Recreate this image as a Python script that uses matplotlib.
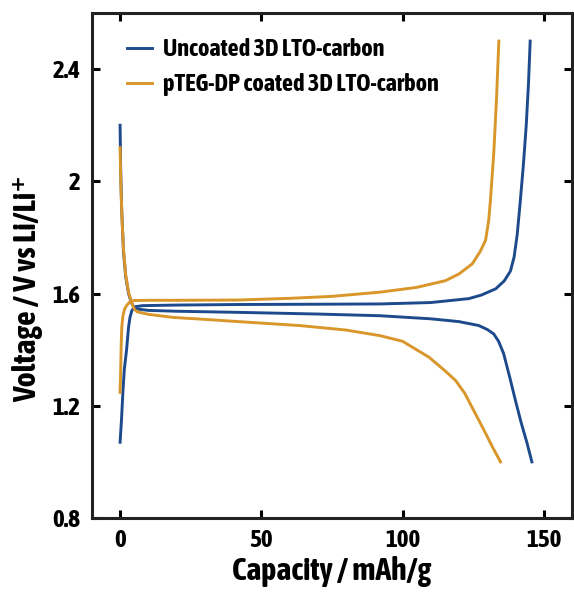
import matplotlib
matplotlib.use('Agg')
import matplotlib.pyplot as plt

plt.rcParams['font.family'] = ['Asap Condensed', 'DejaVu Sans']
plt.rcParams['font.weight'] = 'bold'

blue = '#1d4a8c'
orange = '#d9962a'

# uncoated 3D LTO-carbon
unc_charge_cap = [0, 0.5, 1.0, 1.5, 2.3, 3.0, 3.5, 4.2, 5.3, 8, 20, 42, 70, 92, 110, 123.5,
                  128, 133, 136, 138.2, 139.5, 140.6, 141.7, 142.8, 143.8, 144.6, 145.2]
unc_charge_v = [1.07, 1.15, 1.25, 1.33, 1.40, 1.48, 1.515, 1.54, 1.553, 1.557, 1.559, 1.561, 1.562,
                1.563, 1.568, 1.582, 1.595, 1.617, 1.645, 1.68, 1.73, 1.81, 1.93, 2.06, 2.2, 2.35, 2.5]
unc_dis_cap = [0, 0.2, 0.5, 0.9, 1.2, 2.0, 3.0, 4.0, 5.0, 6.0, 10, 20, 42, 70, 92, 110, 120, 127,
               130, 132.3, 134, 135.8, 138, 140, 142, 144, 145.8]
unc_dis_v = [2.2, 2.05, 1.92, 1.82, 1.75, 1.66, 1.60, 1.567, 1.55, 1.545, 1.54, 1.537, 1.533, 1.527,
             1.521, 1.51, 1.50, 1.486, 1.472, 1.456, 1.43, 1.386, 1.30, 1.218, 1.14, 1.07, 1.0]

# pTEG-DP coated 3D LTO-carbon
pteg_charge_cap = [0, 0.2, 0.4, 0.6, 1.0, 1.6, 2.3, 3.2, 4.7, 10, 20, 42, 60, 75, 92, 105, 115.2,
                   120, 124.7, 127.5, 129.4, 130.5, 131.1, 132.3, 133.3, 134.1]
pteg_charge_v = [1.248, 1.32, 1.42, 1.48, 1.52, 1.545, 1.557, 1.568, 1.575, 1.576, 1.576, 1.577,
                 1.583, 1.59, 1.605, 1.622, 1.646, 1.67, 1.706, 1.75, 1.79, 1.86, 1.93, 2.1, 2.3, 2.5]
pteg_dis_cap = [0, 0.3, 0.7, 1.2, 2.0, 3.0, 4.0, 5.0, 6, 10, 18.8, 30, 42, 63.5, 80, 92, 100, 109.4,
                115, 118.8, 122, 125.9, 129, 132, 134.7]
pteg_dis_v = [2.12, 1.98, 1.86, 1.76, 1.665, 1.605, 1.57, 1.545, 1.535, 1.526, 1.515, 1.508, 1.50,
              1.486, 1.47, 1.45, 1.43, 1.373, 1.325, 1.29, 1.245, 1.17, 1.11, 1.05, 1.0]

x_ticks = [0, 50, 100, 150]
y_ticks = [0.8, 1.2, 1.6, 2.0, 2.4]
y_tick_labels = ['0.8', '1.2', '1.6', '2', '2.4']

fig = plt.figure(figsize=(5.74, 5.92), dpi=100)
ax = fig.add_axes([0.160, 0.125, 0.8365, 0.853])

lw = 2.1
ax.plot(unc_charge_cap, unc_charge_v, color=blue, lw=lw, label='Uncoated 3D LTO-carbon')
ax.plot(unc_dis_cap, unc_dis_v, color=blue, lw=lw)
ax.plot(pteg_charge_cap, pteg_charge_v, color=orange, lw=lw, label='pTEG-DP coated 3D LTO-carbon')
ax.plot(pteg_dis_cap, pteg_dis_v, color=orange, lw=lw)

ax.set_xlim(-10, 160)
ax.set_ylim(0.8, 2.6)
ax.set_xticks(x_ticks)
ax.set_yticks(y_ticks)
ax.set_yticklabels(y_tick_labels)
ax.tick_params(direction='in', length=6, width=2.2, top=True, right=True,
               labelsize=18, pad=8)
for s in ax.spines.values():
    s.set_linewidth(2.2)
    s.set_color('#222222')

ax.set_xlabel('Capacity / mAh/g', fontsize=23, fontweight='bold', labelpad=3)
ax.set_ylabel('Voltage / V vs Li/Li⁺', fontsize=23, fontweight='bold')
ax.yaxis.set_label_coords(-0.102, 0.455)

ax.legend(loc='upper left', bbox_to_anchor=(0.073, 0.95), frameon=False,
          borderpad=0, borderaxespad=0, handlelength=1.05, handletextpad=0.45,
          labelspacing=0.5, prop={'family': ['Asap Condensed', 'DejaVu Sans'], 'weight': 'bold', 'size': 17.5})

fig.savefig('out.png', dpi=100)
